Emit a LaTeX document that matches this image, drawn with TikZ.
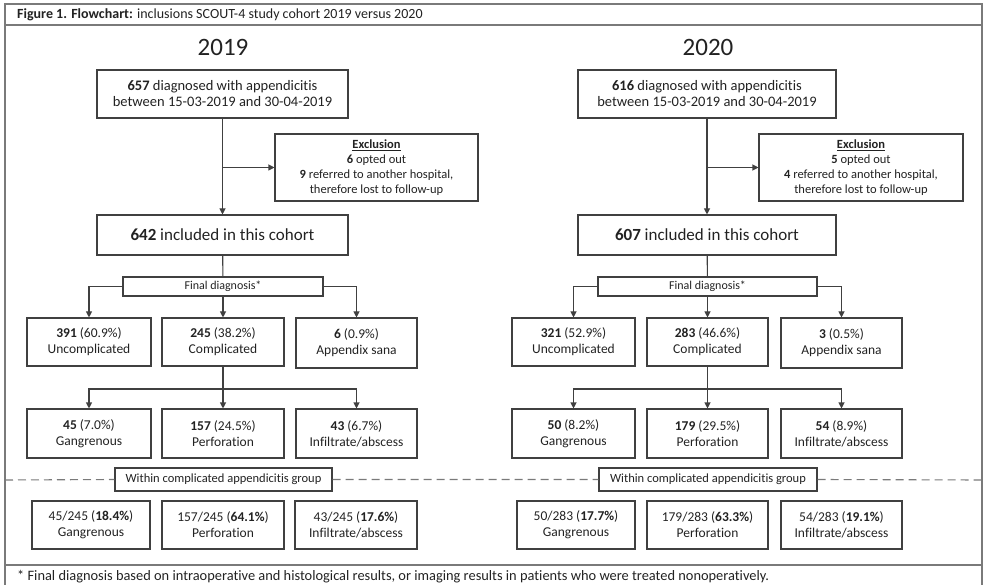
\documentclass[tikz,border=0pt]{standalone}
\usepackage{fontspec}
\setmainfont{Carlito}[Ligatures=NoCommon]
\usepackage{tikz}
\usetikzlibrary{arrows.meta,positioning}
\definecolor{ink}{HTML}{222222}
\definecolor{linec}{HTML}{404040}
\definecolor{framec}{HTML}{7A7A7A}
\newcommand{\fs}[2]{\fontsize{#1}{#2}\selectfont}

\begin{document}
\begin{tikzpicture}[x=1pt,y=-1pt,>={Triangle[length=6pt,width=6pt]},
    every node/.style={text=ink,align=center,inner sep=0pt},
    box/.style={draw=linec,line width=1.1pt,minimum width=#1},
    box/.default=122,
    link/.style={draw=linec,line width=1.1pt},
    dashline/.style={draw=framec,line width=1.1pt,dash pattern=on 8pt off 5pt}]
  \useasboundingbox (0,0) rectangle (983,585);
  % outer frame, title bar and footer
  \draw[framec,line width=1.3pt] (5,600) -- (5,4) -- (982,4) -- (982,600);
  \draw[framec,line width=1.3pt] (5,25) -- (982,25);
  \draw[framec,line width=1.3pt] (5,565) -- (982,565);
  \node[anchor=west,font=\fs{14}{16}] (title) at (17,15) {\textbf{Figure 1. Flowchart:} inclusions SCOUT-4 study cohort 2019 versus 2020};
  \node[anchor=west,font=\fs{14.4}{16}] (note) at (17,577) {* Final diagnosis based on intraoperative and histological results, or imaging results in patients who were treated nonoperatively.};

  % 2019 cohort
  \node[font=\fs{25}{28}] (yr19) at (223,47) {2019};
  \node[box=251,minimum height=48,font=\fs{14.5}{16}] (diag19) at (222.5,94) {\textbf{657} diagnosed with appendicitis\\between 15-03-2019 and 30-04-2019};
  \node[box=203,minimum height=67,font=\fs{12.5}{15}] (excl19) at (376.5,167.5) {\underline{\textbf{Exclusion}}\\\textbf{6} opted out\\\textbf{9} referred to another hospital,\\therefore lost to follow-up};
  \node[box=251,minimum height=40,font=\fs{17}{19}] (incl19) at (222.5,235) {\textbf{642} included in this cohort};
  \node[box=200,minimum height=19,font=\fs{12}{14}] (fd19) at (223,286.5) {Final diagnosis*};
  \node[box=124,minimum height=48,font=\fs{13.5}{16}] (unc19) at (89,342) {\textbf{391} (60.9\%)\\Uncomplicated};
  \node[box,minimum height=48,font=\fs{13.5}{16}] (com19) at (223,342) {\textbf{245} (38.2\%)\\Complicated};
  \node[box=121,minimum height=50,font=\fs{13.5}{16}] (san19) at (356.5,343) {\textbf{6} (0.9\%)\\Appendix sana};
  \node[box=124,minimum height=49,font=\fs{13.5}{16}] (gan19) at (89,433.5) {\textbf{45} (7.0\%)\\Gangrenous};
  \node[box,minimum height=49,font=\fs{13.5}{16}] (per19) at (223,433.5) {\textbf{157} (24.5\%)\\Perforation};
  \node[box=121,minimum height=49,font=\fs{13.5}{16}] (inf19) at (356.5,433.5) {\textbf{43} (6.7\%)\\Infiltrate/abscess};
  \node[box=217,minimum height=23,font=\fs{12.5}{14}] (within19) at (223.5,479.5) {Within complicated appendicitis group};
  \node[box=118,minimum height=48,font=\fs{13.5}{16}] (gg19) at (91,525) {45/245 (\textbf{18.4\%})\\Gangrenous};
  \node[box,minimum height=48,font=\fs{13.5}{16}] (pp19) at (223,525) {157/245 (\textbf{64.1\%})\\Perforation};
  \node[box,minimum height=48,font=\fs{13.5}{16}] (ii19) at (356,525) {43/245 (\textbf{17.6\%})\\Infiltrate/abscess};
  \coordinate (j19) at (223,389);

  \draw[link,->] (diag19) -- (incl19);
  \draw[link,->] (diag19.south |- excl19) -- (excl19);
  \draw[link] (incl19) -- (fd19);
  \draw[link,->] (fd19.west) -| (unc19);
  \draw[link,->] (fd19) -- (com19);
  \draw[link,->] (fd19.east) -| (san19);
  \draw[link] (com19) -- (j19);
  \draw[link,->] (j19) -| (gan19);
  \draw[link,->] (j19) -- (per19);
  \draw[link,->] (j19) -| (inf19);

  % 2020 cohort
  \node[font=\fs{25}{28}] (yr20) at (708,47) {2020};
  \node[box=258,minimum height=48,font=\fs{14.5}{16}] (diag20) at (707,94) {\textbf{616} diagnosed with appendicitis\\between 15-03-2019 and 30-04-2019};
  \node[box=204,minimum height=67,font=\fs{12.5}{15}] (excl20) at (861,167.5) {\underline{\textbf{Exclusion}}\\\textbf{5} opted out\\\textbf{4} referred to another hospital,\\therefore lost to follow-up};
  \node[box=258,minimum height=40,font=\fs{17}{19}] (incl20) at (707,235) {\textbf{607} included in this cohort};
  \node[box=219,minimum height=19,font=\fs{12}{14}] (fd20) at (707.5,286.5) {Final diagnosis*};
  \node[box=123,minimum height=48,font=\fs{13.5}{16}] (unc20) at (573.5,342) {\textbf{321} (52.9\%)\\Uncomplicated};
  \node[box=121,minimum height=48,font=\fs{13.5}{16}] (com20) at (707.5,342) {\textbf{283} (46.6\%)\\Complicated};
  \node[box=121,minimum height=50,font=\fs{13.5}{16}] (san20) at (841.5,343) {\textbf{3} (0.5\%)\\Appendix sana};
  \node[box=123,minimum height=49,font=\fs{13.5}{16}] (gan20) at (573.5,433.5) {\textbf{50} (8.2\%)\\Gangrenous};
  \node[box=121,minimum height=49,font=\fs{13.5}{16}] (per20) at (707.5,433.5) {\textbf{179} (29.5\%)\\Perforation};
  \node[box=121,minimum height=49,font=\fs{13.5}{16}] (inf20) at (841.5,433.5) {\textbf{54} (8.9\%)\\Infiltrate/abscess};
  \node[box=218,minimum height=23,font=\fs{12.5}{14}] (within20) at (708,479.5) {Within complicated appendicitis group};
  \node[box=118,minimum height=48,font=\fs{13.5}{16}] (gg20) at (576,525) {50/283 (\textbf{17.7\%})\\Gangrenous};
  \node[box=121,minimum height=48,font=\fs{13.5}{16}] (pp20) at (707.5,525) {179/283 (\textbf{63.3\%})\\Perforation};
  \node[box=121,minimum height=48,font=\fs{13.5}{16}] (ii20) at (841.5,525) {54/283 (\textbf{19.1\%})\\Infiltrate/abscess};
  \coordinate (j20) at (707.5,389);

  \draw[link,->] (diag20) -- (incl20);
  \draw[link,->] (diag20.south |- excl20) -- (excl20);
  \draw[link] (incl20) -- (fd20);
  \draw[link,->] (fd20.west) -| (unc20);
  \draw[link,->] (fd20) -- (com20);
  \draw[link,->] (fd20.east) -| (san20);
  \draw[link] (com20) -- (j20);
  \draw[link,->] (j20) -| (gan20);
  \draw[link,->] (j20) -- (per20);
  \draw[link,->] (j20) -| (inf20);

  % dashed separator
  \coordinate (dl) at (5,480);
  \coordinate (dr) at (982,480);
  \draw[dashline] (dl) -- (within19.west) (within19.east) -- (within20.west) (within20.east) -- (dr);
\end{tikzpicture}
\end{document}
